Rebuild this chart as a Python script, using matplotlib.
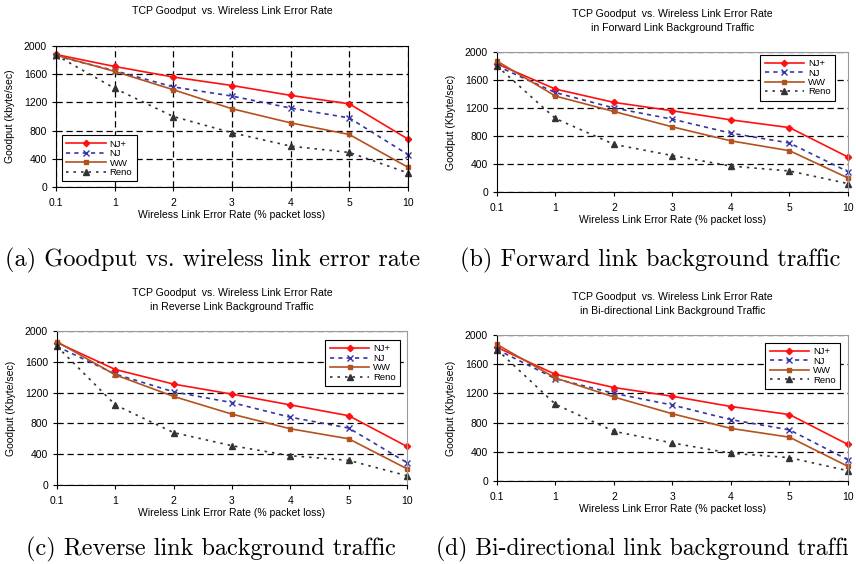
import matplotlib
matplotlib.use("Agg")
import matplotlib.pyplot as plt

plt.rcParams["font.family"] = "Liberation Sans"

x_labels = ["0.1", "1", "2", "3", "4", "5", "10"]
series_names = ["NJ+", "NJ", "WW", "Reno"]

# (a) no background traffic
a_njp = [1880, 1710, 1560, 1440, 1300, 1180, 680]
a_nj = [1860, 1650, 1420, 1290, 1120, 980, 460]
a_ww = [1870, 1640, 1380, 1110, 910, 745, 280]
a_reno = [1870, 1400, 1000, 770, 580, 490, 200]

# (b) forward link background traffic
b_njp = [1830, 1470, 1280, 1160, 1030, 920, 500]
b_nj = [1800, 1420, 1200, 1040, 840, 700, 290]
b_ww = [1870, 1370, 1150, 930, 730, 590, 200]
b_reno = [1800, 1050, 680, 520, 370, 300, 120]

# (c) reverse link background traffic
c_njp = [1850, 1500, 1310, 1180, 1040, 900, 500]
c_nj = [1800, 1440, 1210, 1070, 880, 740, 290]
c_ww = [1860, 1430, 1150, 920, 730, 600, 210]
c_reno = [1800, 1040, 680, 510, 380, 320, 120]

# (d) bi-directional link background traffic
d_njp = [1830, 1460, 1280, 1160, 1020, 910, 500]
d_nj = [1800, 1400, 1200, 1040, 840, 700, 290]
d_ww = [1870, 1410, 1150, 920, 720, 600, 200]
d_reno = [1800, 1050, 680, 520, 380, 320, 140]

RED = "#ff1010"
BLUE = "#3535a8"
BROWN = "#b3521e"
DARK = "#333333"

styles = [
    dict(color=RED, ls="-", marker="D", ms=3.2, lw=1.2),
    dict(color=BLUE, ls=(0, (2.5, 2.5)), marker="x", ms=4.5, mew=1.0, lw=1.2),
    dict(color=BROWN, ls="-", marker="s", ms=3.5, lw=1.2),
    dict(color=DARK, ls=(0, (1.5, 3)), marker="^", ms=3.8, lw=1.2),
]

fig = plt.figure(figsize=(8.56, 5.64), dpi=100)


def panel(rect, data, title, title_pad, ylabel, legend_loc, legend_anchor, vgrid):
    ax = fig.add_axes(rect)
    xs = range(len(x_labels))
    for name, ys, st in zip(series_names, data, styles):
        ax.plot(xs, ys, label=name, clip_on=False, **st)
    ax.set_xlim(0, len(x_labels) - 1)
    ax.set_ylim(0, 2000)
    ax.set_yticks([0, 400, 800, 1200, 1600, 2000])
    ax.set_xticks(list(xs), x_labels)
    ax.tick_params(labelsize=7.5, length=3, direction="out")
    ax.tick_params(axis="x", pad=5)
    ax.yaxis.grid(True, ls=(0, (5, 3)), color="black", lw=0.9)
    if vgrid:
        ax.xaxis.grid(True, ls=(0, (5, 3)), color="black", lw=0.9)
    else:
        for s in ["top", "right"]:
            ax.spines[s].set_color("#999999")
    ax.set_axisbelow(True)
    ax.set_title(title, fontsize=7.6, pad=title_pad, linespacing=1.5)
    ax.set_ylabel(ylabel, fontsize=7.5, labelpad=6)
    ax.set_xlabel("Wireless Link Error Rate (% packet loss)", fontsize=7.5, labelpad=1.5)
    leg = ax.legend(loc=legend_loc, bbox_to_anchor=legend_anchor, fontsize=6.8,
                    fancybox=False, framealpha=1, edgecolor="black",
                    handlelength=4.2, handletextpad=0.4, labelspacing=0.05,
                    borderpad=0.45, borderaxespad=0)
    leg.get_frame().set_linewidth(0.8)
    return ax


panel([0.0654, 0.6684, 0.4112, 0.25], [a_njp, a_nj, a_ww, a_reno],
      "TCP Goodput  vs. Wireless Link Error Rate", 23, "Goodput (kbyte/sec)",
      "lower left", (0.017, 0.04), True)
panel([0.5806, 0.6596, 0.4100, 0.2482], [b_njp, b_nj, b_ww, b_reno],
      "TCP Goodput  vs. Wireless Link Error Rate\nin Forward Link Background Traffic", 15,
      "Goodput (Kbyte/sec)", "upper right", (0.963, 0.98), False)
panel([0.0666, 0.1401, 0.4089, 0.2730], [c_njp, c_nj, c_ww, c_reno],
      "TCP Goodput  vs. Wireless Link Error Rate\nin Reverse Link Background Traffic", 15,
      "Goodput (Kbyte/sec)", "upper right", (0.98, 0.94), False)
panel([0.5806, 0.1472, 0.4100, 0.2589], [d_njp, d_nj, d_ww, d_reno],
      "TCP Goodput  vs. Wireless Link Error Rate\nin Bi-directional Link Background Traffic", 15,
      "Goodput (Kbyte/sec)", "upper right", (0.977, 0.945), False)

cap = dict(fontsize=17.5, family="cmr10", va="center")
fig.text(0.248, 1 - 260 / 564, "(a) Goodput vs. wireless link error rate", ha="center", **cap)
fig.text(0.760, 1 - 260 / 564, "(b) Forward link background traffic", ha="center", **cap)
fig.text(0.246, 1 - 549 / 564, "(c) Reverse link background traffic", ha="center", **cap)
cap["fontsize"] = 17.0
fig.text(436 / 856, 1 - 549 / 564, "(d) Bi-directional link background traffi", ha="left", **cap)

fig.savefig("out.png", dpi=100)
